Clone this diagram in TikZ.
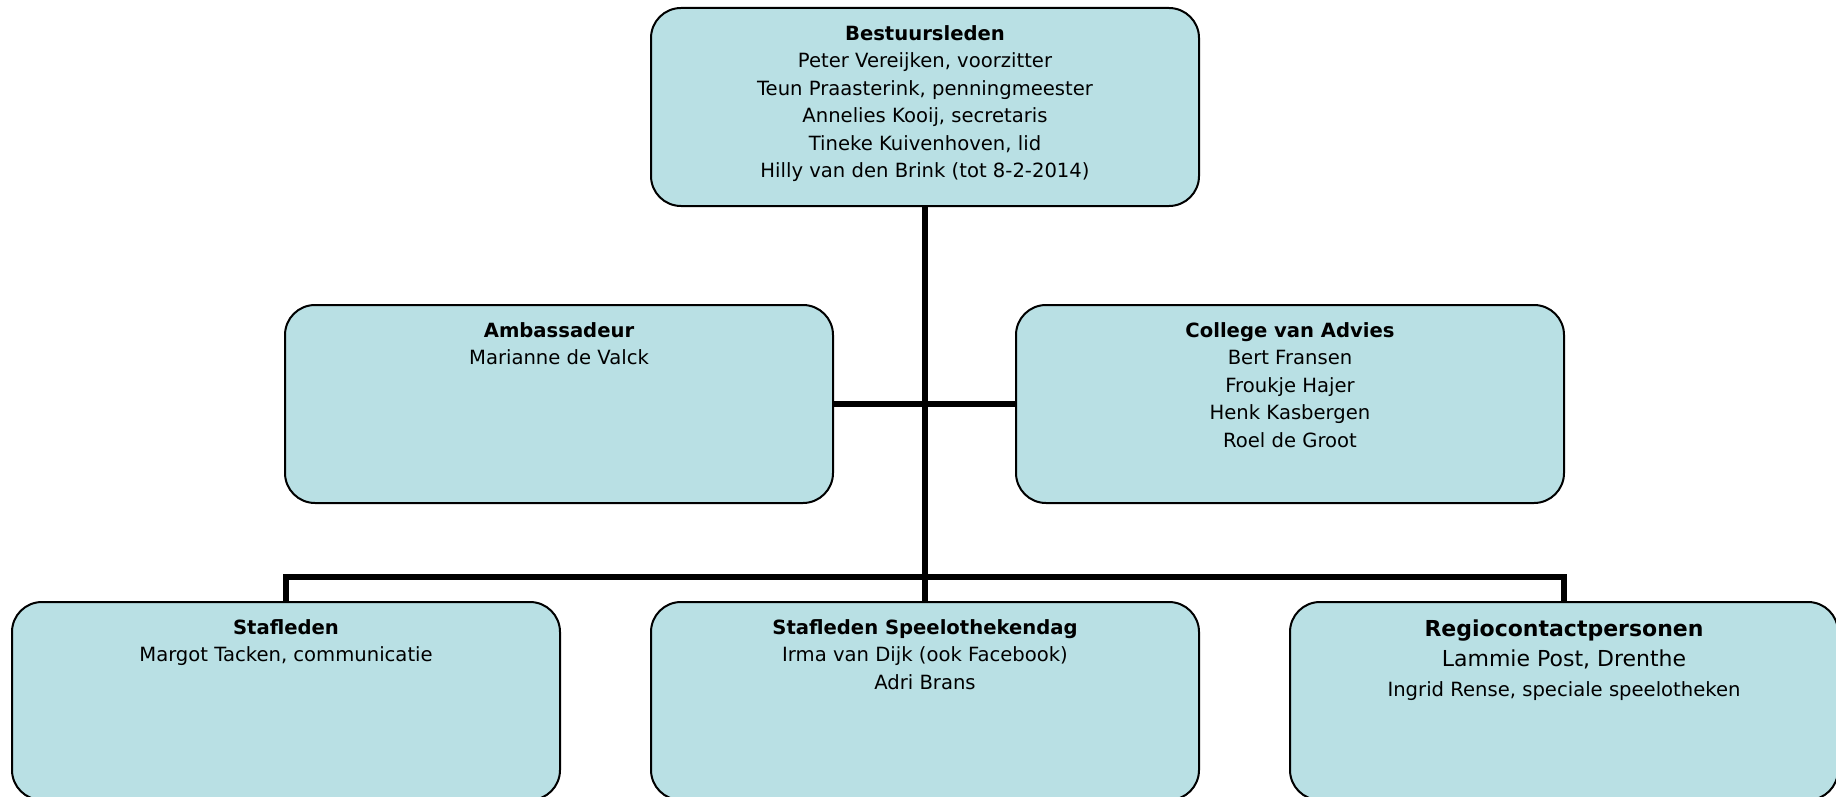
\documentclass[tikz,border=0pt]{standalone}
\usepackage{fontspec}
\setmainfont{DejaVu Sans}
\definecolor{boxfill}{RGB}{185,224,228}
\tikzset{
  orgbox/.style={draw=black, line width=2pt, fill=boxfill, rounded corners=30pt,
    minimum width=548pt, minimum height=198pt, inner sep=0pt},
  orgtxt/.style={anchor=north, align=center, inner sep=0pt,
    font=\fontsize{19.6}{27.5}\selectfont},
  conn/.style={draw=black, line width=5.5pt, line join=miter},
}
\begin{document}
\begin{tikzpicture}[x=1pt,y=-1pt]
\useasboundingbox (0,0) rectangle (1836,797);
% boxes
\node[orgbox] (top)  at (925,107) {};
\node[orgbox] (amb)  at (559,404) {};
\node[orgbox] (col)  at (1290,404) {};
\node[orgbox] (staf) at (286,701) {};
\node[orgbox] (dag)  at (925,701) {};
\node[orgbox] (reg)  at (1564,701) {};
% connectors
\draw[conn] (top.south) -- (dag.north);
\draw[conn] (amb.east) -- (col.west);
\draw[conn] (staf.north) -- ++(0,-24) -| (reg.north);
% texts
\node[orgtxt] (ttop) at ([yshift=-18pt]top.north) {\textbf{Bestuursleden}\\Peter Vereijken, voorzitter\\Teun Praasterink, penningmeester\\Annelies Kooij, secretaris\\Tineke Kuivenhoven, lid\\Hilly van den Brink (tot 8-2-2014)};
\node[orgtxt] (tamb) at ([yshift=-18pt]amb.north) {\textbf{Ambassadeur}\\Marianne de Valck};
\node[orgtxt] (tcol) at ([yshift=-18pt]col.north) {\textbf{College van Advies}\\Bert Fransen\\Froukje Hajer\\Henk Kasbergen\\Roel de Groot};
\node[orgtxt] (tstaf) at ([yshift=-18pt]staf.north) {\textbf{Stafleden}\\Margot Tacken, communicatie};
\node[orgtxt] (tdag) at ([yshift=-18pt]dag.north) {\textbf{Stafleden Speelothekendag}\\Irma van Dijk (ook Facebook)\\Adri Brans};
\node[orgtxt, font=\fontsize{22}{30}\selectfont] (treg) at ([yshift=-19pt]reg.north) {\textbf{Regiocontactpersonen}\\Lammie Post, Drenthe\\{\fontsize{19.6}{27.5}\selectfont Ingrid Rense, speciale speelotheken}};
\end{tikzpicture}
\end{document}
